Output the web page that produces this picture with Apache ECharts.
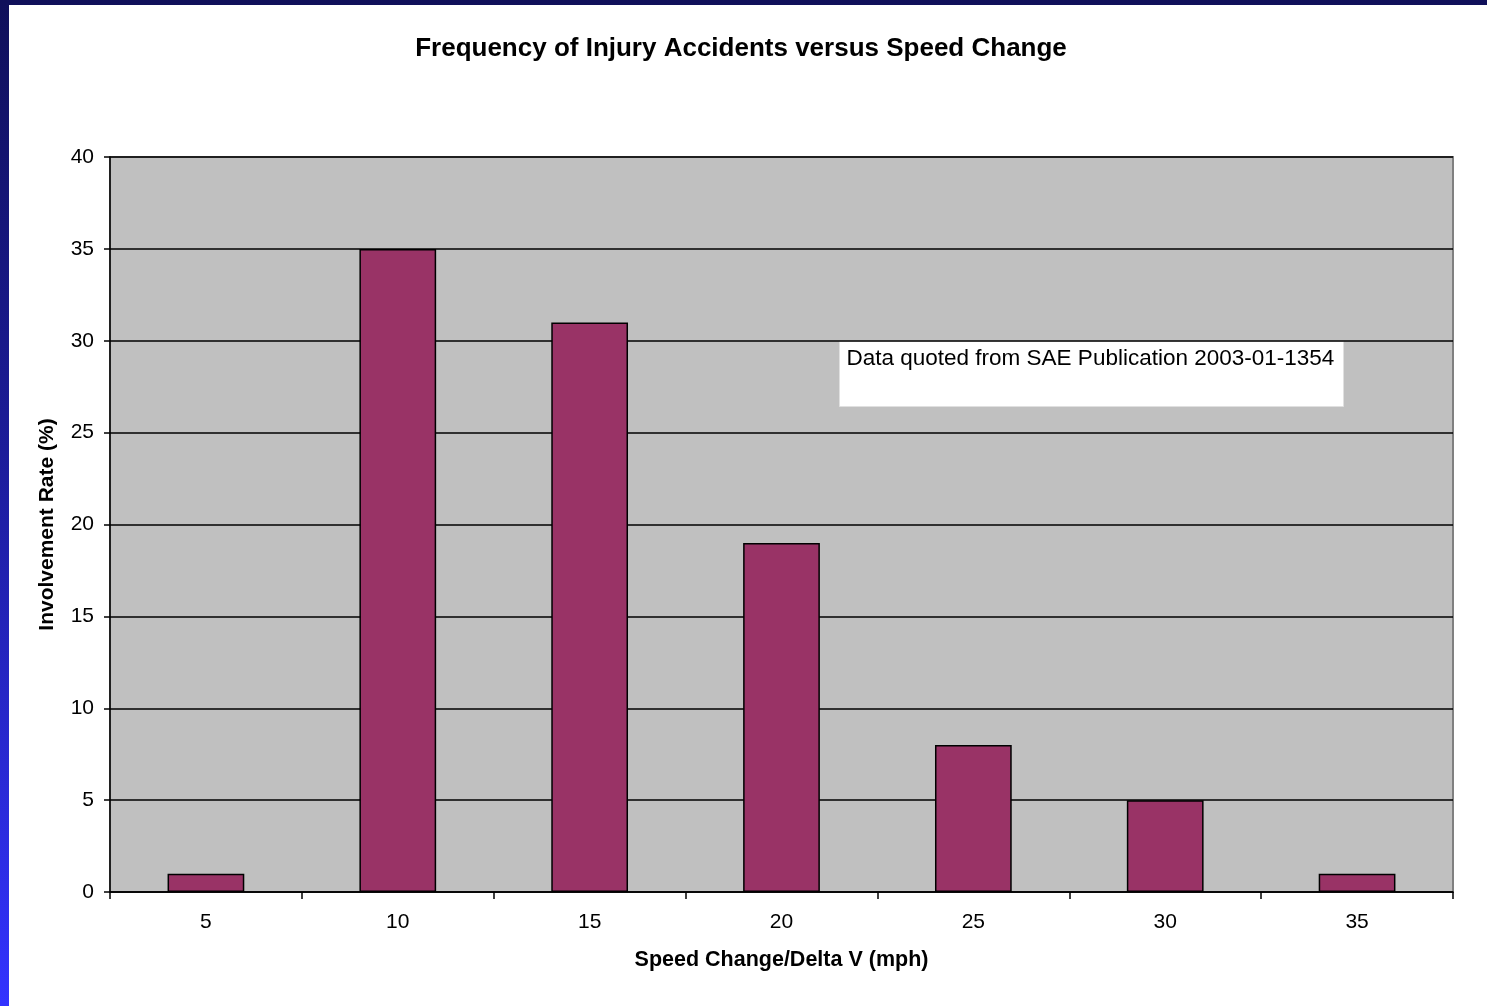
<!DOCTYPE html>
<html>
<head>
<meta charset="utf-8">
<title>Frequency of Injury Accidents versus Speed Change</title>
<script src="https://cdn.jsdelivr.net/npm/echarts@6/dist/echarts.min.js"></script>
<style>
  html, body {
    margin: 0;
    padding: 0;
    width: 1487px;
    height: 1006px;
    overflow: hidden;
    background: linear-gradient(to bottom, #10105a 0%, #1c1c9a 45%, #3333ff 100%);
  }
  #chart {
    position: absolute;
    left: 9px;
    top: 5px;
    width: 1478px;
    height: 1001px;
    background: #ffffff;
  }
</style>
</head>
<body>
<div id="chart"></div>
<script>
  // 数据
  const speedChange = ['5', '10', '15', '20', '25', '30', '35']
  const involvementRate = [1, 35, 31, 19, 8, 5, 1]
  const yTicks = { min: 0, max: 40, interval: 5 }

  const chartInstance = echarts.init(document.getElementById('chart'))

  const font = 'Arial, "Liberation Sans", sans-serif'

  const option = {
    animation: false,
    title: {
      text: 'Frequency of Injury Accidents versus Speed Change',
      left: 727,
      textAlign: 'center',
      top: 26,
      textStyle: {
        fontFamily: font,
        fontSize: 26,
        fontWeight: 'bold',
        color: '#000'
      }
    },
    grid: {
      left: 101,
      right: 34,
      top: 152,
      bottom: 114,
      show: true,
      backgroundColor: '#c0c0c0',
      borderColor: '#808080',
      borderWidth: 2
    },
    xAxis: {
      type: 'category',
      data: speedChange,
      name: 'Speed Change/Delta V (mph)',
      nameLocation: 'middle',
      nameGap: 57,
      nameTextStyle: {
        fontFamily: font,
        fontSize: 21.5,
        fontWeight: 'bold',
        color: '#000'
      },
      axisLine: { show: true, lineStyle: { color: '#000', width: 1.5 } },
      axisTick: { show: true, length: 7, lineStyle: { color: '#000', width: 1.5 } },
      axisLabel: {
        margin: 20,
        fontFamily: font,
        fontSize: 21,
        color: '#000'
      },
      splitLine: { show: false }
    },
    yAxis: {
      type: 'value',
      min: yTicks.min,
      max: yTicks.max,
      interval: yTicks.interval,
      name: 'Involvement Rate (%)',
      nameLocation: 'middle',
      nameRotate: 90,
      nameGap: 52,
      nameTextStyle: {
        fontFamily: font,
        fontSize: 21,
        fontWeight: 'bold',
        color: '#000'
      },
      axisLine: { show: true, lineStyle: { color: '#000', width: 1.5 } },
      axisTick: { show: true, length: 6, lineStyle: { color: '#000', width: 1.5 } },
      axisLabel: {
        margin: 16,
        fontFamily: font,
        fontSize: 21,
        color: '#000'
      },
      splitLine: { show: true, lineStyle: { color: '#000', width: 1.5 } }
    },
    series: [
      {
        type: 'bar',
        data: involvementRate,
        barCategoryGap: '60%',
        itemStyle: {
          color: '#993366',
          borderColor: '#000',
          borderWidth: 1.5
        }
      }
    ],
    graphic: [
      {
        type: 'group',
        left: 830,
        top: 336,
        children: [
          {
            type: 'rect',
            shape: { x: 0, y: 0, width: 504, height: 65 },
            style: { fill: '#ffffff', stroke: '#e0e0e0', lineWidth: 1 }
          },
          {
            type: 'text',
            x: 7,
            y: 6,
            style: {
              text: 'Data quoted from SAE Publication 2003-01-1354',
              fontFamily: font,
              fontSize: 22.5,
              fill: '#000'
            }
          }
        ]
      }
    ]
  }

  chartInstance.setOption(option)
</script>
</body>
</html>
